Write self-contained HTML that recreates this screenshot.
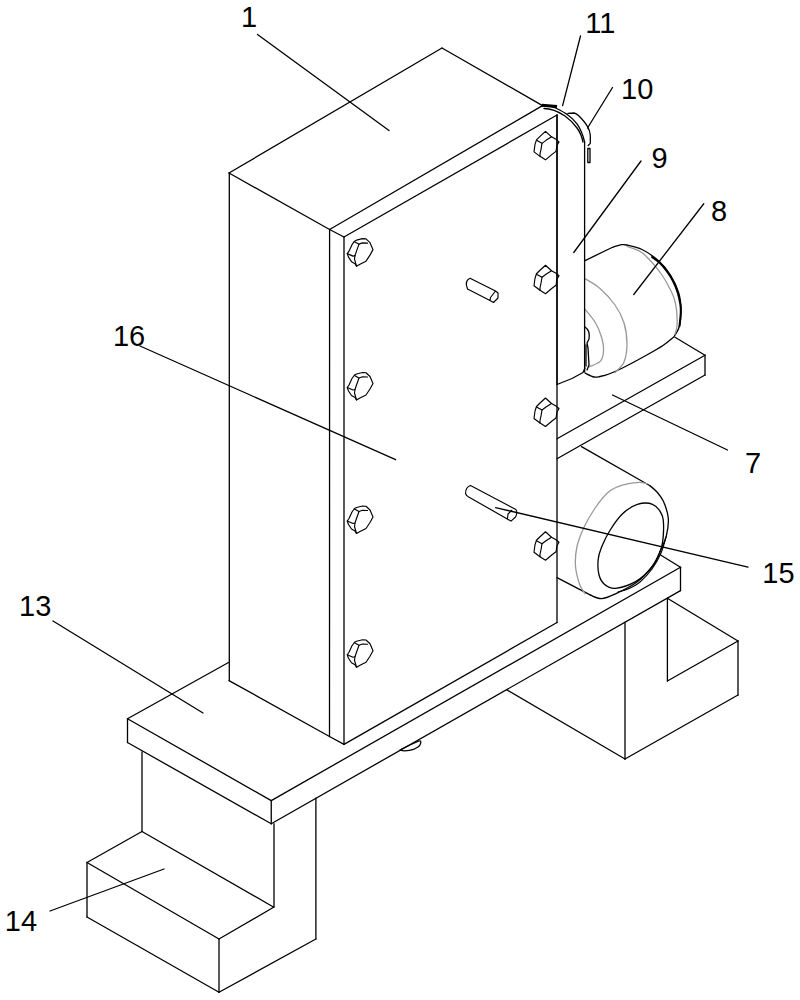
<!DOCTYPE html>
<html><head><meta charset="utf-8"><style>
html,body{margin:0;padding:0;background:#fff;}
svg{display:block;}
path{fill:none;stroke:#000;stroke-width:1.3;stroke-linejoin:round;stroke-linecap:round;}
path.g{stroke:#999;}
path.s{stroke-width:1.15;}
path.t{stroke-width:2;}
path.t3{stroke-width:3;stroke-linecap:butt;}
text{font-family:"Liberation Sans",sans-serif;font-size:29px;fill:#000;}
</style></head><body>
<svg width="800" height="1000" viewBox="0 0 800 1000">
<path d="M442,48 L229,173"/>
<path d="M229,173 L329.6,229.5"/>
<path d="M442,48 L542.5,105.6"/>
<path d="M329.6,229.5 L542.5,105.6"/>
<path d="M229.3,173 L229.3,680.6"/>
<path d="M329.6,229.5 L329.5,736.5"/>
<path d="M229,680.6 L329.5,736.5"/>
<path d="M329.6,229.5 L344,237"/>
<path d="M344,237 L557,115"/>
<path d="M344,237 L344,744.4"/>
<path d="M329.5,736.5 L344,744.4"/>
<path d="M344,744.4 L557,622.5"/>
<path d="M557,115 L557,622.5"/>
<path d="M127.5,718.75 L228.5,662.5"/>
<path d="M127.5,718.75 L271.25,800.6"/>
<path d="M271.25,800.6 L680.5,567.3"/>
<path d="M680.5,567.3 L660.6,555"/>
<path d="M127.5,718.75 L127.5,742.5"/>
<path d="M127.5,742.5 L271.25,823.75"/>
<path d="M271.25,800.6 L271.25,823.75"/>
<path d="M271.25,823.75 L680.5,590.6"/>
<path d="M680.5,567.3 L680.5,590.6"/>
<path d="M142,751.8 L142,831.5"/>
<path d="M142,831.5 L87,862.5"/>
<path d="M142,831.5 L273.4,907"/>
<path d="M87,862.5 L87,917"/>
<path d="M87,862.5 L219,939"/>
<path d="M219,939 L219,992.3"/>
<path d="M87,917 L219,992.3"/>
<path d="M219,939 L274,907"/>
<path d="M219,992.3 L315.9,939"/>
<path d="M315.9,798.2 L315.9,939"/>
<path d="M274,823.75 L274,907"/>
<path d="M625,622.2 L625,759"/>
<path d="M507,690 L625,759"/>
<path d="M625,759 L738,695"/>
<path d="M738,641 L738,695"/>
<path d="M667.4,598.3 L667.4,681"/>
<path d="M667.4,598.3 L738,641"/>
<path d="M667.4,681 L738,641"/>
<path d="M557,384.5 L572,378.5 L583,372.5 L585,368"/>
<path d="M675,337.25 L705,355.2"/>
<path d="M705,355.2 L557,438.75"/>
<path d="M705,355.2 L705,375"/>
<path d="M705,375 L557,458.75"/>
<path d="M584.6,260.8 L612,247.5 M612.00,247.50 C613.43,247.05 618.10,245.22 620.60,244.80 C623.10,244.38 623.43,244.22 627.00,245.00 C630.57,245.78 636.75,246.88 642.00,249.50 C647.25,252.12 653.75,256.50 658.50,260.75 C663.25,265.00 667.12,269.62 670.50,275.00 C673.88,280.38 677.00,287.25 678.75,293.00 C680.50,298.75 680.88,304.00 681.00,309.50 C681.12,315.00 680.50,321.75 679.50,326.00 C678.50,330.25 676.00,333.12 675.00,335.00 C674.00,336.88 673.75,336.88 673.50,337.25 L673.50,337.25 C671.75,338.62 667.75,342.38 663.00,345.50 C658.25,348.62 651.75,352.25 645.00,356.00 C638.25,359.75 628.50,365.00 622.50,368.00 C616.50,371.00 612.75,372.58 609.00,374.00 C605.25,375.42 602.50,376.00 600.00,376.50 C597.50,377.00 596.47,377.55 594.00,377.00 C591.53,376.45 586.67,373.83 585.20,373.20"/>
<path d="M627.00,246.50 C629.33,247.42 636.75,249.25 641.00,252.00 C645.25,254.75 649.00,259.17 652.50,263.00 C656.00,266.83 659.25,271.00 662.00,275.00 C664.75,279.00 667.00,283.17 669.00,287.00 C671.00,290.83 672.75,294.25 674.00,298.00 C675.25,301.75 676.00,304.83 676.50,309.50 C677.00,314.17 677.25,321.92 677.00,326.00 C676.75,330.08 675.33,332.67 675.00,334.00" class="g"/>
<path d="M584.60,278.40 C587.17,280.08 594.93,284.07 600.00,288.50 C605.07,292.93 611.00,299.25 615.00,305.00 C619.00,310.75 622.00,316.50 624.00,323.00 C626.00,329.50 627.00,337.50 627.00,344.00 C627.00,350.50 626.00,357.25 624.00,362.00 C622.00,366.75 616.50,370.75 615.00,372.50" class="g"/>
<path d="M584.60,308.80 C586.33,311.00 592.18,317.30 595.00,322.00 C597.82,326.70 600.07,332.33 601.50,337.00 C602.93,341.67 603.78,345.97 603.60,350.00 C603.42,354.03 602.80,358.40 600.40,361.20 C598.00,364.00 591.07,365.87 589.20,366.80" class="g"/>
<path d="M652.00,257.00 C653.33,258.00 657.50,260.58 660.00,263.00 C662.50,265.42 664.83,268.50 667.00,271.50 C669.17,274.50 671.25,277.58 673.00,281.00 C674.75,284.42 676.28,288.17 677.50,292.00 C678.72,295.83 679.75,300.67 680.30,304.00 C680.85,307.33 680.93,308.33 680.80,312.00 C680.67,315.67 679.72,323.67 679.50,326.00" class="t"/>
<path d="M585,327 C588,329 590,333 589,339 L587,343 L588,348 L589,365 L587,370"/>
<path d="M586,345 L586,366"/>
<path d="M557,115 L557,384"/>
<path d="M584.6,142 L584.6,372"/>
<path d="M542.5,105.6 C552,105 560,110 566.5,114 C571,117 574,120 577,123.8 C580,128 583,135 584.6,142"/>
<path d="M544,108.5 C553,108.5 559,112 565,116 C570,119.5 574,124 577,128 C580,132 582,137 583,142"/>
<path d="M541.8,105.2 L557,106.5" class="t3"/>
<path d="M567.9,113.3 C570,113 572,113 574.2,113 C576,113.5 578,115 579,116 C582,119 585,122 587.5,126.6 C589,129 590,132 590.3,135 L590.3,143.4 L588.2,145.5"/>
<path d="M587.8,148.5 L590,148.5 L590,162.5 L587.8,162.5 Z"/>
<path d="M581.5,446.6 L650,485.8"/>
<path d="M650.00,485.80 C651.17,486.83 654.75,489.37 657.00,492.00 C659.25,494.63 661.62,497.25 663.50,501.60 C665.38,505.95 667.83,512.37 668.30,518.10 C668.77,523.83 667.55,530.72 666.30,536.00 C665.05,541.28 663.10,544.75 660.80,549.80 C658.50,554.85 656.63,560.80 652.50,566.30 C648.37,571.80 642.18,578.22 636.00,582.80 C629.82,587.38 621.13,591.17 615.40,593.80 C609.67,596.43 605.73,598.37 601.60,598.60 C597.47,598.83 592.43,595.77 590.60,595.20"/>
<path d="M590.6,595.2 L557,577.6"/>
<path d="M647.00,483.80 C645.63,483.57 642.92,482.18 638.80,482.40 C634.68,482.62 627.35,483.50 622.30,485.10 C617.25,486.70 613.08,488.10 608.50,492.00 C603.92,495.90 598.92,502.53 594.80,508.50 C590.68,514.47 586.78,521.38 583.80,527.80 C580.82,534.22 578.28,540.58 576.90,547.00 C575.52,553.42 575.05,560.10 575.50,566.30 C575.95,572.50 578.00,579.62 579.60,584.20 C581.20,588.78 584.18,592.20 585.10,593.80" class="g"/>
<path d="M637.40,504.40 C642.43,502.80 648.37,502.57 652.50,504.40 C656.63,506.23 660.37,510.82 662.20,515.40 C664.03,519.98 663.73,526.17 663.50,531.90 C663.27,537.63 662.85,543.83 660.80,549.80 C658.75,555.77 655.33,562.43 651.20,567.70 C647.07,572.97 641.97,577.97 636.00,581.40 C630.03,584.83 620.67,587.83 615.40,588.30 C610.13,588.77 607.15,586.50 604.40,584.20 C601.65,581.90 599.93,578.63 598.90,574.50 C597.87,570.37 597.75,563.98 598.20,559.40 C598.65,554.82 599.65,551.82 601.60,547.00 C603.55,542.18 606.45,536.00 609.90,530.50 C613.35,525.00 617.72,518.35 622.30,514.00 C626.88,509.65 632.37,506.00 637.40,504.40 Z"/>
<path d="M666.00,537.00 C665.17,539.67 663.33,547.67 661.00,553.00 C658.67,558.33 655.50,564.17 652.00,569.00 C648.50,573.83 644.00,578.67 640.00,582.00 C636.00,585.33 631.67,587.33 628.00,589.00 C624.33,590.67 619.67,591.50 618.00,592.00" class="s"/>
<path d="M356.50,240.15 L362.50,238.65 L366.00,238.90 L370.00,242.65 L373.00,249.65 L370.00,255.15 L366.00,261.15 L360.00,264.15 L356.50,266.15 L355.00,263.65 L351.50,261.65 L348.50,257.15 L347.25,253.65 L349.00,251.15 L352.00,244.65 L354.50,241.15 Z" class="s"/>
<path d="M354.50,241.65 L359.00,244.15 L362.50,242.90 L367.50,243.15" class="s"/>
<path d="M359.00,244.15 L356.50,251.15 L355.00,255.65 L354.50,259.15 L356.50,266.15" class="s"/>
<path d="M347.25,253.65 L353.00,256.15 L355.00,255.65" class="s"/>
<path d="M356.50,374.00 L362.50,372.50 L366.00,372.75 L370.00,376.50 L373.00,383.50 L370.00,389.00 L366.00,395.00 L360.00,398.00 L356.50,400.00 L355.00,397.50 L351.50,395.50 L348.50,391.00 L347.25,387.50 L349.00,385.00 L352.00,378.50 L354.50,375.00 Z" class="s"/>
<path d="M354.50,375.50 L359.00,378.00 L362.50,376.75 L367.50,377.00" class="s"/>
<path d="M359.00,378.00 L356.50,385.00 L355.00,389.50 L354.50,393.00 L356.50,400.00" class="s"/>
<path d="M347.25,387.50 L353.00,390.00 L355.00,389.50" class="s"/>
<path d="M356.50,507.50 L362.50,506.00 L366.00,506.25 L370.00,510.00 L373.00,517.00 L370.00,522.50 L366.00,528.50 L360.00,531.50 L356.50,533.50 L355.00,531.00 L351.50,529.00 L348.50,524.50 L347.25,521.00 L349.00,518.50 L352.00,512.00 L354.50,508.50 Z" class="s"/>
<path d="M354.50,509.00 L359.00,511.50 L362.50,510.25 L367.50,510.50" class="s"/>
<path d="M359.00,511.50 L356.50,518.50 L355.00,523.00 L354.50,526.50 L356.50,533.50" class="s"/>
<path d="M347.25,521.00 L353.00,523.50 L355.00,523.00" class="s"/>
<path d="M356.50,641.25 L362.50,639.75 L366.00,640.00 L370.00,643.75 L373.00,650.75 L370.00,656.25 L366.00,662.25 L360.00,665.25 L356.50,667.25 L355.00,664.75 L351.50,662.75 L348.50,658.25 L347.25,654.75 L349.00,652.25 L352.00,645.75 L354.50,642.25 Z" class="s"/>
<path d="M354.50,642.75 L359.00,645.25 L362.50,644.00 L367.50,644.25" class="s"/>
<path d="M359.00,645.25 L356.50,652.25 L355.00,656.75 L354.50,660.25 L356.50,667.25" class="s"/>
<path d="M347.25,654.75 L353.00,657.25 L355.00,656.75" class="s"/>
<path d="M545.50,131.35 L551.50,136.85 L556.00,139.35 L559.00,141.85 L557.00,145.35 L556.00,151.35 L552.00,154.35 L545.50,159.85 L540.00,156.35 L534.00,151.85 L535.00,144.35 L536.50,139.85 L540.00,136.35 Z" class="s"/>
<path d="M536.50,140.35 L542.00,143.35 L546.00,140.35 L551.50,136.85" class="s"/>
<path d="M542.00,143.35 L541.00,149.35 L540.00,153.85 L540.00,156.35" class="s"/>
<path d="M545.50,265.25 L551.50,270.75 L556.00,273.25 L559.00,275.75 L557.00,279.25 L556.00,285.25 L552.00,288.25 L545.50,293.75 L540.00,290.25 L534.00,285.75 L535.00,278.25 L536.50,273.75 L540.00,270.25 Z" class="s"/>
<path d="M536.50,274.25 L542.00,277.25 L546.00,274.25 L551.50,270.75" class="s"/>
<path d="M542.00,277.25 L541.00,283.25 L540.00,287.75 L540.00,290.25" class="s"/>
<path d="M545.50,398.00 L551.50,403.50 L556.00,406.00 L559.00,408.50 L557.00,412.00 L556.00,418.00 L552.00,421.00 L545.50,426.50 L540.00,423.00 L534.00,418.50 L535.00,411.00 L536.50,406.50 L540.00,403.00 Z" class="s"/>
<path d="M536.50,407.00 L542.00,410.00 L546.00,407.00 L551.50,403.50" class="s"/>
<path d="M542.00,410.00 L541.00,416.00 L540.00,420.50 L540.00,423.00" class="s"/>
<path d="M545.50,531.75 L551.50,537.25 L556.00,539.75 L559.00,542.25 L557.00,545.75 L556.00,551.75 L552.00,554.75 L545.50,560.25 L540.00,556.75 L534.00,552.25 L535.00,544.75 L536.50,540.25 L540.00,536.75 Z" class="s"/>
<path d="M536.50,540.75 L542.00,543.75 L546.00,540.75 L551.50,537.25" class="s"/>
<path d="M542.00,543.75 L541.00,549.75 L540.00,554.25 L540.00,556.75" class="s"/>
<path d="M470,278.25 L495.5,291 M467.5,289 L490,300.5 M470,278.25 C467,279.5 465,283 467.5,289 M495.5,291 L498,293 L498,298 L493.5,302.5 L490,300.5 M495.5,291 L490.5,297.5 L490,300.5" class="s"/>
<path d="M470.5,485.5 L515.9,509.5 M468.25,496.75 L507.25,518.9 M470.5,485.5 C467.5,486.5 465.5,490 465.6,493.75 C466,495 467,496 468.25,496.75 M515.9,509.5 C517,511 517,514 515.5,517 L511,521.1 L507.25,518.9 M511.75,510.25 L508,514 L507.5,518.75" class="s"/>
<path d="M257.5,34.5 L389,130.5"/>
<path d="M580.5,36 L562.6,105.6"/>
<path d="M612.5,87.5 L587.5,128"/>
<path d="M641,161 L573.75,252.5"/>
<path d="M703.75,203.75 L633.75,294.5"/>
<path d="M612.5,395 L727.5,450"/>
<path d="M140,346 L395.6,459.7"/>
<path d="M495.6,507.6 L748,567.2"/>
<path d="M53,621 L203,713"/>
<path d="M50,911 L164,869"/>
<path d="M400,750 C405,747 412,744 419,741 C422,740 421,745 418,747 C414,750 405,752 400,750 Z"/>
<text x="241" y="27">1</text>
<text x="585.25" y="32.7">11</text>
<text x="621" y="99">10</text>
<text x="651.6" y="167.5">9</text>
<text x="711.1" y="220.75">8</text>
<text x="112.9" y="346.25">16</text>
<text x="745" y="472.8">7</text>
<text x="762.3" y="583.2">15</text>
<text x="19" y="615.6">13</text>
<text x="4.75" y="930.5">14</text>
</svg>
</body></html>
